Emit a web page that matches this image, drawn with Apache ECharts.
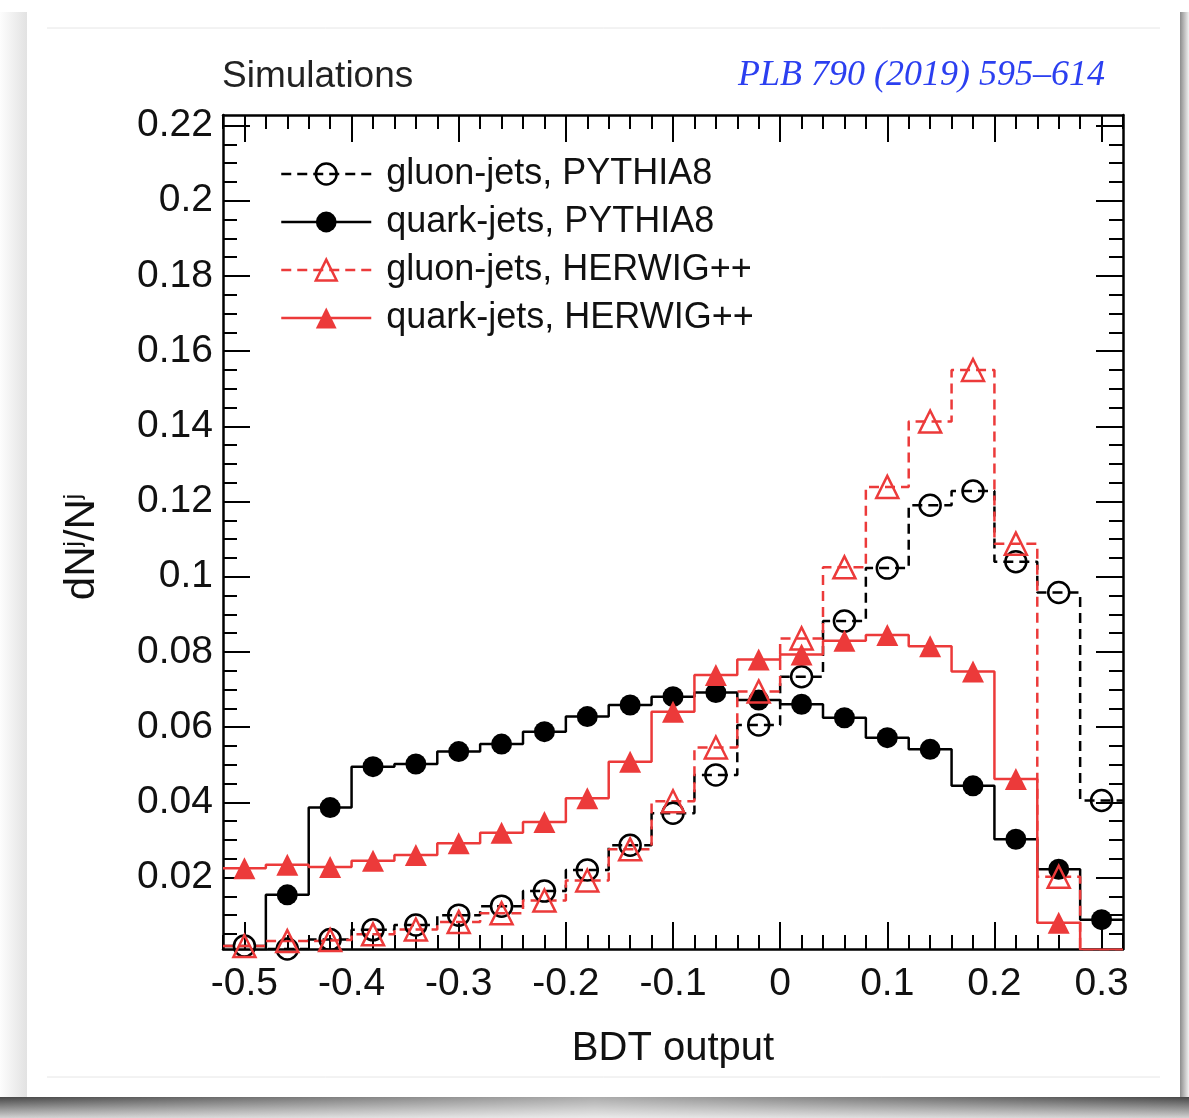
<!DOCTYPE html>
<html>
<head>
<meta charset="utf-8">
<script src="https://cdn.jsdelivr.net/npm/echarts@6/dist/echarts.min.js"></script>
<style>
html, body { margin: 0; padding: 0; background: #fff; }
#main { width: 1189px; height: 1118px; }
</style>
</head>
<body>
<div id="main"></div>
<script>
// bins of the BDT output (centres), width 0.04
var binCenters = [-0.50, -0.46, -0.42, -0.38, -0.34, -0.30, -0.26, -0.22, -0.18, -0.14, -0.10,
                  -0.06, -0.02, 0.02, 0.06, 0.10, 0.14, 0.18, 0.22, 0.26, 0.30];
var binWidth = 0.04;

var gluonPythia = [0.0018, 0.0010, 0.0035, 0.0061, 0.0074, 0.0100, 0.0124, 0.0164, 0.0220, 0.0286, 0.0371,
                   0.0473, 0.0606, 0.0734, 0.0882, 0.1023, 0.1190, 0.1228, 0.1040, 0.0958, 0.0405];
var quarkPythia = [0.0005, 0.0154, 0.0386, 0.0495, 0.0502, 0.0535, 0.0555, 0.0588, 0.0628, 0.0659, 0.0681,
                   0.0692, 0.0672, 0.0661, 0.0625, 0.0572, 0.0541, 0.0444, 0.0302, 0.0222, 0.0088];
var gluonHerwig = [0.0018, 0.0031, 0.0034, 0.0049, 0.0062, 0.0082, 0.0105, 0.0139, 0.0192, 0.0275, 0.0403,
                   0.0546, 0.0695, 0.0836, 0.1025, 0.1239, 0.1413, 0.1550, 0.1088, 0.0202, 0.0005];
var quarkHerwig = [0.0225, 0.0234, 0.0228, 0.0245, 0.0260, 0.0291, 0.0319, 0.0348, 0.0411, 0.0508, 0.0641,
                   0.0739, 0.0780, 0.0793, 0.0830, 0.0845, 0.0815, 0.0748, 0.0462, 0.0080, 0.0008];

// tick labels
var xLabels = [-0.5, -0.4, -0.3, -0.2, -0.1, 0, 0.1, 0.2, 0.3];
var yLabels = [0.02, 0.04, 0.06, 0.08, 0.1, 0.12, 0.14, 0.16, 0.18, 0.2, 0.22];

var xMinor = [];
for (var i = -26; i <= 16; i++) xMinor.push(Math.round(i * 2) / 100);
var yMinor = [];
for (var j = 1; j <= 44; j++) yMinor.push(Math.round(j * 5) / 1000);

var FONT = '"Liberation Sans", Arial, Helvetica, sans-serif';
var RED = '#ec3a3a';
var DASH = [10, 6];

function stepData(vals) {
    var pts = binCenters.map(function (c, i) { return [c - binWidth / 2, vals[i]]; });
    pts.push([binCenters[binCenters.length - 1] + binWidth / 2, vals[vals.length - 1]]);
    return pts;
}
function pointData(vals) {
    return binCenters.map(function (c, i) { return [c, vals[i]]; });
}

function axis(pos, min, max, ticks, len, line, labels) {
    return {
        type: 'value', position: pos, min: min, max: max,
        axisLine: { show: line, onZero: false, lineStyle: { color: '#000', width: 2.5 } },
        axisTick: { show: true, inside: true, length: len, customValues: ticks,
                    lineStyle: { color: '#000', width: 2 } },
        axisLabel: labels ? {
            show: true, customValues: labels, fontFamily: FONT, fontSize: 39, color: '#111',
            margin: pos === 'bottom' ? 16 : 10
        } : { show: false },
        splitLine: { show: false }
    };
}

var xAxes = [
    axis('bottom', -0.52, 0.32, xLabels, 27, true, xLabels),
    axis('bottom', -0.52, 0.32, xMinor, 14, false, null),
    axis('top', -0.52, 0.32, xLabels, 27, true, null),
    axis('top', -0.52, 0.32, xMinor, 14, false, null)
];
xAxes[0].name = 'BDT output';
xAxes[0].nameLocation = 'middle';
xAxes[0].nameGap = 80;
xAxes[0].nameTextStyle = { fontFamily: FONT, fontSize: 40, color: '#111' };

var yAxes = [
    axis('left', 0.001, 0.2228, yLabels, 27, true, yLabels),
    axis('left', 0.001, 0.2228, yMinor, 14, false, null),
    axis('right', 0.001, 0.2228, yLabels, 27, true, null),
    axis('right', 0.001, 0.2228, yMinor, 14, false, null)
];
yAxes[0].name = 'dN{sup|j}/N{sup|j}';
yAxes[0].nameLocation = 'middle';
yAxes[0].nameRotate = 90;
yAxes[0].nameGap = 120;
yAxes[0].nameTextStyle = {
    fontFamily: FONT, fontSize: 42, color: '#111', padding: [0, 30, 0, 0],
    rich: { sup: { fontFamily: FONT, fontSize: 24, color: '#111', verticalAlign: 'top' } }
};

var names = ['gluon-jets, PYTHIA8', 'quark-jets, PYTHIA8', 'gluon-jets, HERWIG++', 'quark-jets, HERWIG++'];
var sets = [gluonPythia, quarkPythia, gluonHerwig, quarkHerwig];
var colors = ['#000', '#000', RED, RED];
var dashed = [true, false, true, false];
var symbols = ['circle', 'circle', 'triangle', 'triangle'];
var filled = [false, true, false, true];

var series = [];
var legendData = [];
names.forEach(function (nm, k) {
    var lineStyle = { color: colors[k], width: 2.5, type: dashed[k] ? DASH : 'solid' };
    var itemStyle = filled[k]
        ? { color: colors[k], borderWidth: 0 }
        : { color: 'rgba(0,0,0,0)', borderColor: colors[k], borderWidth: 2.5 };
    series.push({
        name: nm + ' hist', type: 'line', step: 'end', data: stepData(sets[k]),
        showSymbol: false, symbol: 'none', lineStyle: lineStyle, z: 2 + k, silent: true
    });
    series.push({
        name: nm, type: 'line', data: pointData(sets[k]),
        symbol: symbols[k], symbolSize: symbols[k] === 'circle' ? 21 : 22,
        showSymbol: true, lineStyle: { opacity: 0, width: 0 },
        itemStyle: itemStyle, z: 10 + k, silent: true
    });
    legendData.push({ name: nm, lineStyle: { color: colors[k], width: 2.5, opacity: 1, type: dashed[k] ? DASH : 'solid' },
                      itemStyle: itemStyle });
});

var myChart = echarts.init(document.getElementById('main'));

var option = {
    backgroundColor: '#fff',
    animation: false,
    grid: { left: 223, right: 66, top: 115, bottom: 169 },
    xAxis: xAxes,
    yAxis: yAxes,
    legend: {
        orient: 'vertical', left: 280, top: 156, padding: 0,
        itemWidth: 90, itemHeight: 26, itemGap: 12,
        textStyle: { fontFamily: FONT, fontSize: 36, color: '#111', padding: [0, 0, 0, 10] },
        data: legendData
    },
    graphic: [
        { type: 'rect', z: -10, shape: { x: 0, y: 1097, width: 1189, height: 21 },
          style: { fill: new echarts.graphic.LinearGradient(0, 0, 0, 1,
              [{ offset: 0, color: '#474747' }, { offset: 1, color: '#d2d2d2' }]) } },
        { type: 'rect', z: -9, shape: { x: 0, y: 1097, width: 1189, height: 21 },
          style: { fill: new echarts.graphic.LinearGradient(0, 0, 1, 0,
              [{ offset: 0, color: 'rgba(255,255,255,0)' }, { offset: 0.5, color: 'rgba(255,255,255,0.55)' },
               { offset: 1, color: 'rgba(255,255,255,0)' }]) } },
        { type: 'rect', z: -10, shape: { x: 1180, y: 12, width: 9, height: 1085 },
          style: { fill: new echarts.graphic.LinearGradient(0, 0, 1, 0,
              [{ offset: 0, color: '#8c8c8c' }, { offset: 1, color: '#f2f2f2' }]) } },
        { type: 'rect', z: -10, shape: { x: 0, y: 12, width: 27, height: 1085 },
          style: { fill: new echarts.graphic.LinearGradient(1, 0, 0, 0,
              [{ offset: 0, color: '#e2e2e2' }, { offset: 1, color: '#fdfdfd' }]) } },
        { type: 'line', z: -5, shape: { x1: 47, y1: 28, x2: 1160, y2: 28 },
          style: { stroke: '#e6e6e6', lineWidth: 1 } },
        { type: 'line', z: -5, shape: { x1: 47, y1: 1077, x2: 1160, y2: 1077 },
          style: { stroke: '#e6e6e6', lineWidth: 1 } },
        { type: 'text', left: 222, top: 58,
          style: { text: 'Simulations', font: '37px ' + FONT, fill: '#222' } },
        { type: 'text', left: 738, top: 58,
          style: { text: 'PLB 790 (2019) 595–614', font: 'italic 36px "Liberation Serif", "DejaVu Serif", serif',
                   fill: '#2b3ff0' } }
    ],
    series: series
};

myChart.setOption(option);
</script>
</body>
</html>
